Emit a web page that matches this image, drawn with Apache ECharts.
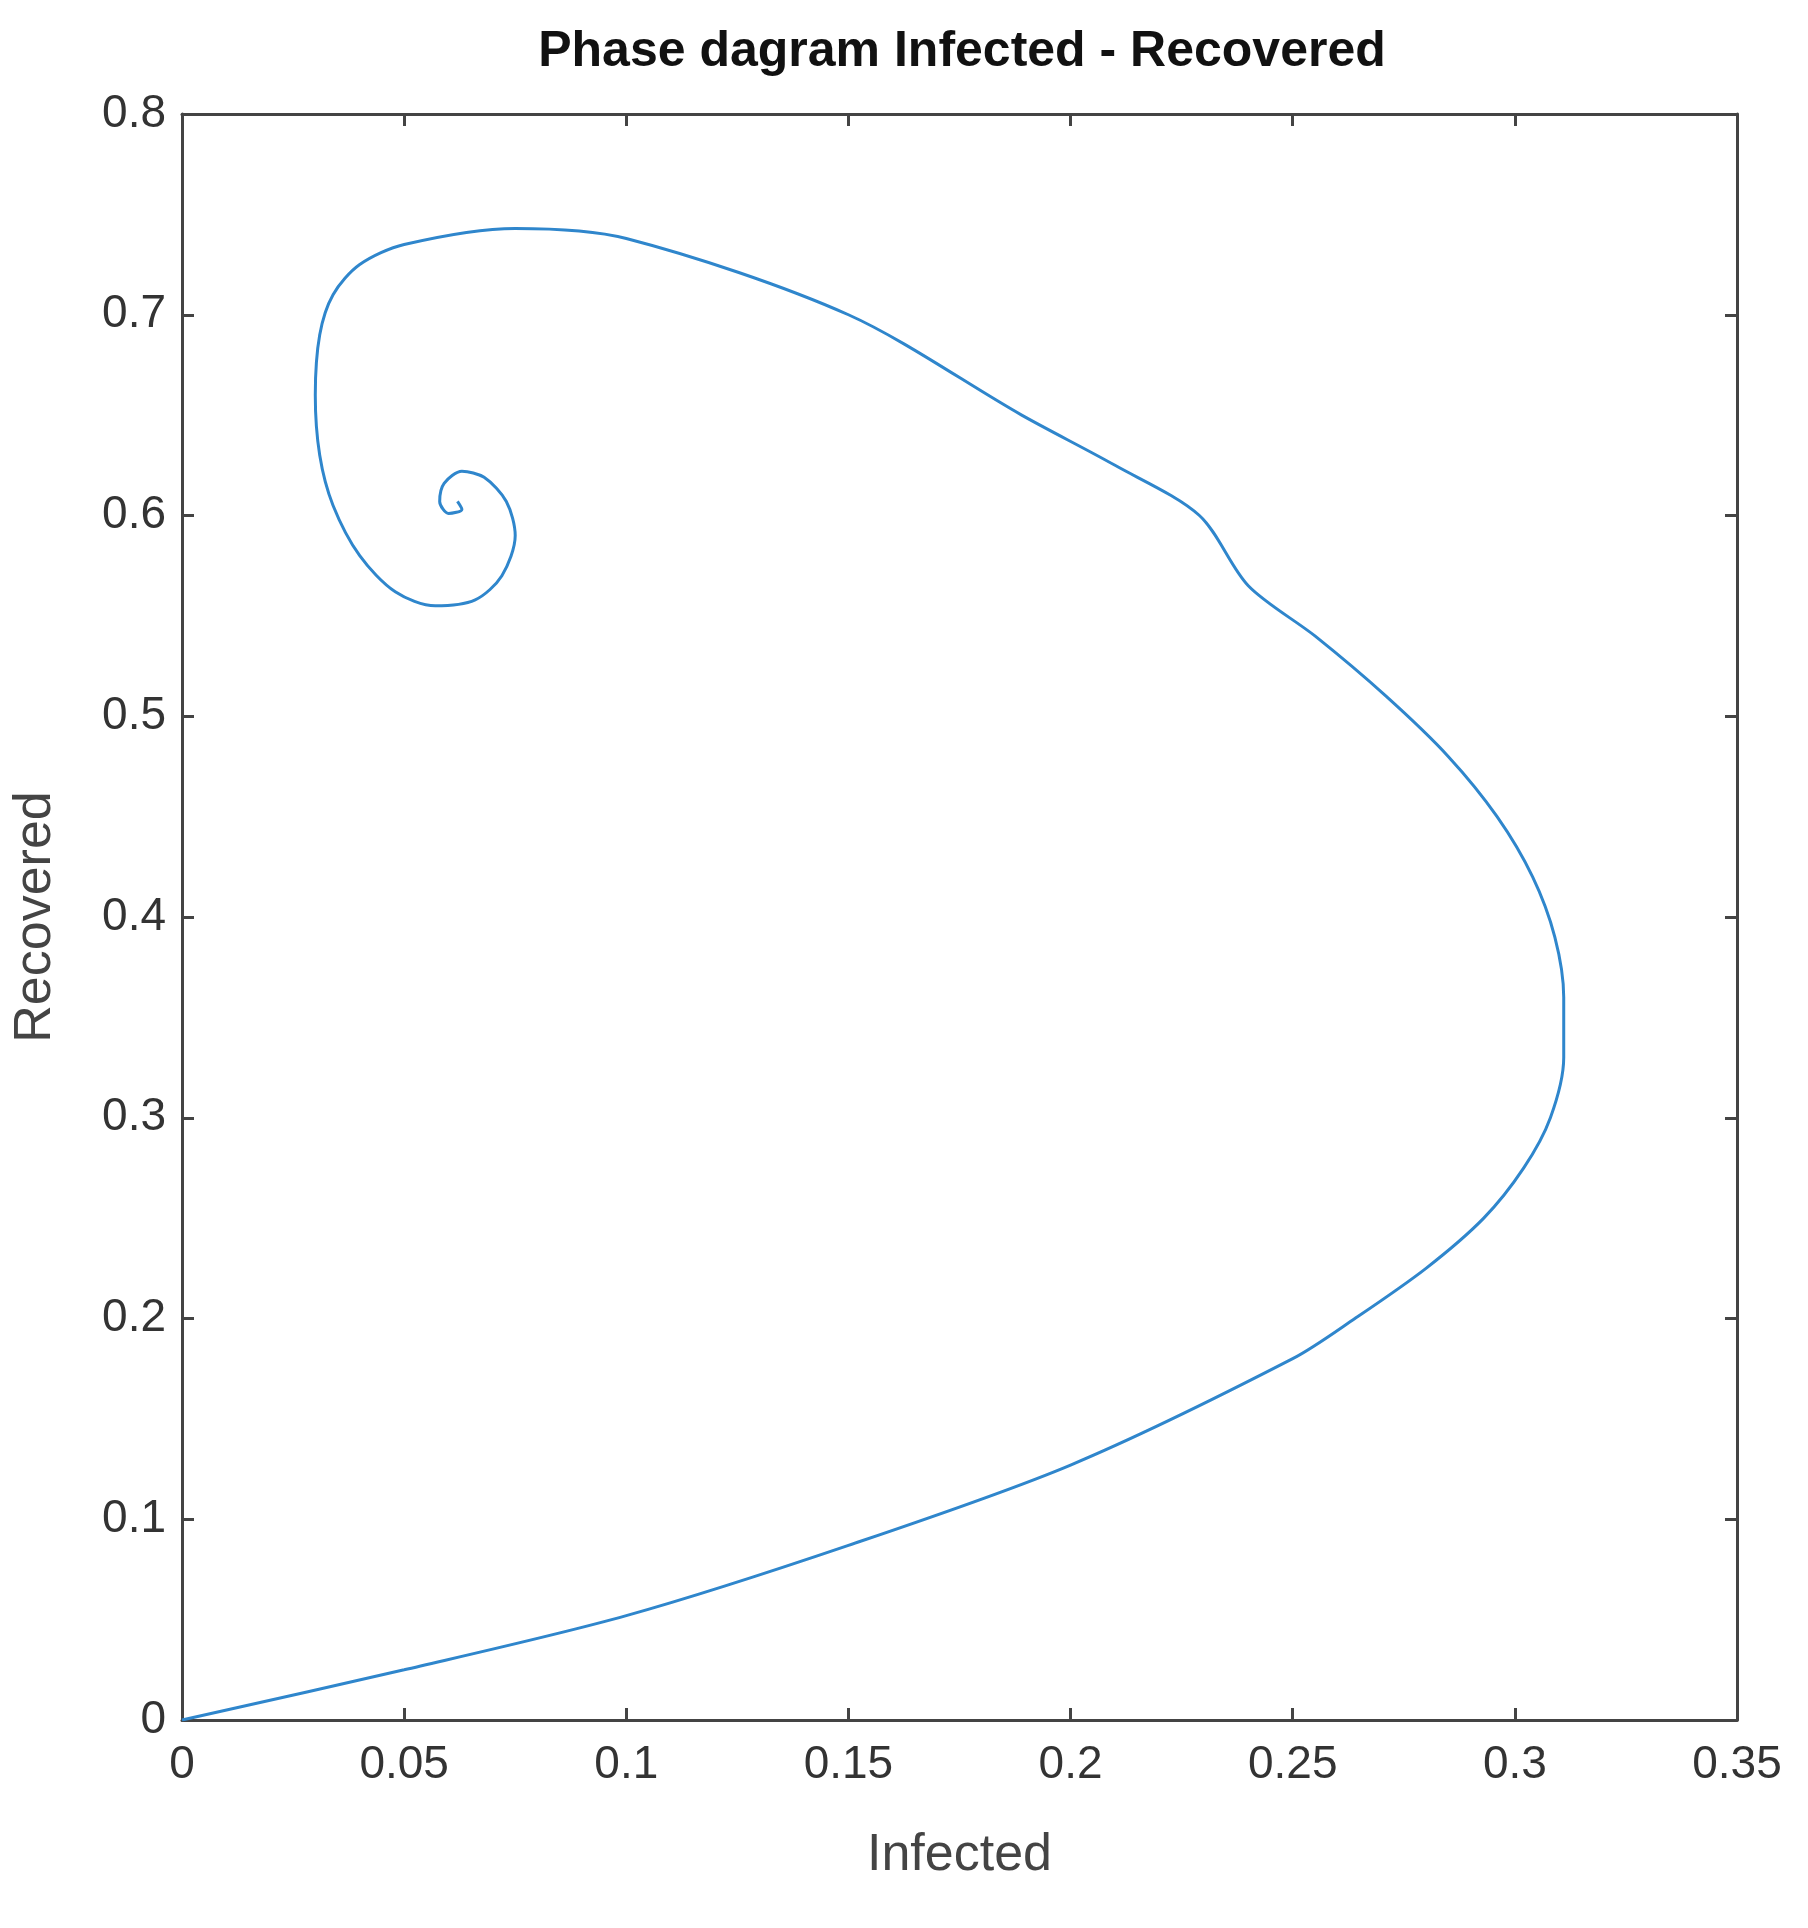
<!DOCTYPE html>
<html>
<head>
<meta charset="utf-8">
<script src="https://cdn.jsdelivr.net/npm/echarts@6/dist/echarts.min.js"></script>
<style>html,body{margin:0;background:#fff}#c{width:1808px;height:1928px}</style>
</head>
<body>
<div id="c"></div>
<script>
// trajectory
const infected = [0, 0.05, 0.1, 0.15, 0.2, 0.25, 0.264, 0.28, 0.293, 0.302, 0.308, 0.311, 0.311, 0.309, 0.304, 0.296, 0.285, 0.271, 0.255, 0.24, 0.229, 0.21, 0.189, 0.15, 0.1, 0.075, 0.05, 0.04, 0.034, 0.031, 0.03, 0.031, 0.034, 0.04, 0.048, 0.057, 0.066, 0.072, 0.075, 0.073, 0.068, 0.063, 0.059, 0.058, 0.06, 0.063, 0.062]
const recovered = [0, 0.025, 0.052, 0.087, 0.127, 0.18, 0.2, 0.225, 0.25, 0.275, 0.3, 0.33, 0.36, 0.39, 0.42, 0.45, 0.48, 0.51, 0.54, 0.565, 0.6, 0.625, 0.65, 0.7, 0.738, 0.743, 0.735, 0.725, 0.71, 0.69, 0.66, 0.63, 0.605, 0.58, 0.562, 0.555, 0.558, 0.57, 0.59, 0.607, 0.619, 0.622, 0.616, 0.607, 0.601, 0.603, 0.607]
const points = infected.map((x, i) => [x, recovered[i]])

const font = "'Liberation Sans Narrow', 'Liberation Sans', Arial, sans-serif"
const axisCommon = {
  axisLine: {onZero: false, lineStyle: {color: '#444', width: 3}},
  axisTick: {inside: true, length: 12, lineStyle: {color: '#444', width: 3}},
  axisLabel: {color: '#333', fontSize: 46, fontFamily: font},
  splitLine: {show: false},
  nameTextStyle: {color: '#444', fontSize: 52, fontFamily: font}
}
const chart = echarts.init(document.getElementById('c'))
chart.setOption({
  animation: false,
  title: {
    text: 'Phase dagram Infected - Recovered',
    left: 957, top: 22, textAlign: 'center',
    textStyle: {fontSize: 50, fontWeight: 'bold', color: '#111', fontFamily: font}
  },
  grid: {left: 182, right: 71, top: 114, bottom: 208},
  xAxis: [
    Object.assign({type: 'value', min: 0, max: 0.35, interval: 0.05, name: 'Infected',
      nameLocation: 'middle', nameGap: 110, position: 'bottom'}, axisCommon,
      {axisLabel: Object.assign({}, axisCommon.axisLabel, {margin: 22})}),
    Object.assign({type: 'value', min: 0, max: 0.35, interval: 0.05, position: 'top'}, axisCommon,
      {axisLabel: {show: false}})
  ],
  yAxis: [
    Object.assign({type: 'value', min: 0, max: 0.8, interval: 0.1, name: 'Recovered',
      nameLocation: 'middle', nameGap: 120, position: 'left'}, axisCommon,
      {axisLabel: Object.assign({}, axisCommon.axisLabel, {margin: 16})}),
    Object.assign({type: 'value', min: 0, max: 0.8, interval: 0.1, position: 'right'}, axisCommon,
      {axisLabel: {show: false}})
  ],
  series: [{
    type: 'line',
    data: points,
    smooth: 0.3,
    showSymbol: false,
    lineStyle: {color: '#2f86cc', width: 3}
  }]
})
</script>
</body>
</html>
